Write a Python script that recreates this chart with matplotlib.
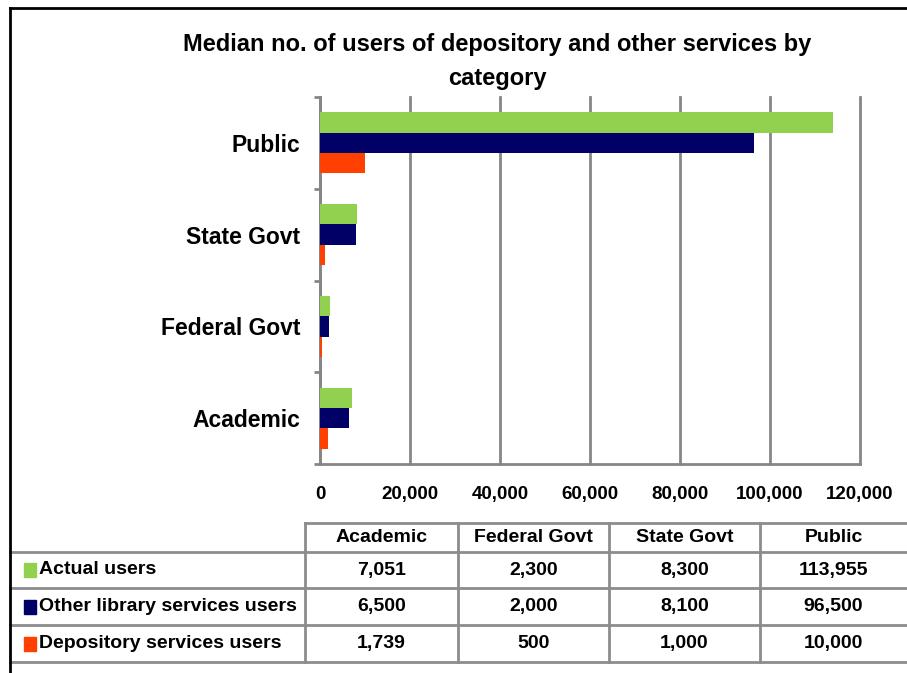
import matplotlib
matplotlib.use("Agg")
import matplotlib.pyplot as plt
from matplotlib.lines import Line2D
from matplotlib.patches import Rectangle

plt.rcParams['font.family'] = ['Liberation Sans', 'DejaVu Sans']
plt.rcParams['font.weight'] = 'bold'

categories = ["Academic", "Federal Govt", "State Govt", "Public"]
series_names = ["Actual users", "Other library services users", "Depository services users"]
actual_users = [7051, 2300, 8300, 113955]
other_users = [6500, 2000, 8100, 96500]
depository_users = [1739, 500, 1000, 10000]
colors = ["#92d050", "#000066", "#ff4000"]
x_ticks = [0, 20000, 40000, 60000, 80000, 100000, 120000]

W, H = 907, 673
fig = plt.figure(figsize=(W / 100, H / 100), dpi=100)

def fx(x):
    return x / W

def fy(y):
    return 1 - y / H

# Plot area
ax = fig.add_axes([fx(320), fy(464), (860 - 320) / W, (464 - 97) / H])
h = 0.222
ys = list(range(len(categories)))
all_series = [actual_users, other_users, depository_users]
offsets = [h, 0, -h]
for vals, col, off in zip(all_series, colors, offsets):
    ax.barh([y + off for y in ys], vals, height=h, color=col, zorder=3)

ax.set_xlim(0, 120000)
ax.set_ylim(-0.5, len(categories) - 0.5)
ax.set_xticks(x_ticks)
ax.set_xticklabels(["{:,}".format(v) for v in x_ticks], fontsize=13.5, fontweight='bold')
ax.set_yticks(ys)
ax.set_yticklabels(categories, fontsize=16.5, fontweight='bold')
ax.set_yticks([y - 0.5 for y in range(len(categories) + 1)], minor=True)
ax.tick_params(axis='x', length=0, pad=16)
ax.tick_params(axis='y', which='major', length=0, pad=14)
ax.tick_params(axis='y', which='minor', length=4, width=2, color='#868686')
ax.grid(axis='x', color='#868686', linewidth=2, zorder=1)
for gl in ax.get_xgridlines():
    gl.set_clip_on(False)
for s in ['top', 'right']:
    ax.spines[s].set_visible(False)
for s in ['left', 'bottom']:
    ax.spines[s].set_color('#868686')
    ax.spines[s].set_linewidth(2)

fig.text(fx(497), fy(45), "Median no. of users of depository and other services by",
         ha='center', va='center', fontsize=17, fontweight='bold')
fig.text(fx(497), fy(78), "category", ha='center', va='center', fontsize=17, fontweight='bold')

# Data table
gray = '#8c8c8c'
def line(x0, y0, x1, y1, color=gray, lw=2):
    fig.add_artist(Line2D([fx(x0), fx(x1)], [fy(y0), fy(y1)], color=color, linewidth=lw))

row_y = [523, 552, 588, 625, 662]
col_x = [305, 458, 609, 760, 907]
line(305, row_y[0], 907, row_y[0])
for yy in row_y[1:]:
    line(10, yy, 907, yy)
for xx in col_x[:-1]:
    line(xx, row_y[0], xx, row_y[-1])

tfs = 14
for i, cat in enumerate(categories):
    cx = (col_x[i] + col_x[i + 1]) / 2
    fig.text(fx(cx), fy((row_y[0] + row_y[1]) / 2), cat, ha='center', va='center',
             fontsize=tfs, fontweight='bold')
for r, (name, vals, col) in enumerate(zip(series_names, all_series, colors)):
    yc = (row_y[r + 1] + row_y[r + 2]) / 2
    fig.add_artist(Rectangle((fx(24), fy(yc + 7)), 12 / W, 14 / H, color=col,
                             transform=fig.transFigure))
    fig.text(fx(39), fy(yc), name, ha='left', va='center', fontsize=tfs, fontweight='bold')
    for i, v in enumerate(vals):
        cx = (col_x[i] + col_x[i + 1]) / 2
        fig.text(fx(cx), fy(yc), "{:,}".format(v), ha='center', va='center',
                 fontsize=tfs, fontweight='bold')

# Outer border
line(10, 8, 10, 673, color='black', lw=2)
line(10, 8, 907, 8, color='black', lw=2)

fig.savefig("out.png", dpi=100)
